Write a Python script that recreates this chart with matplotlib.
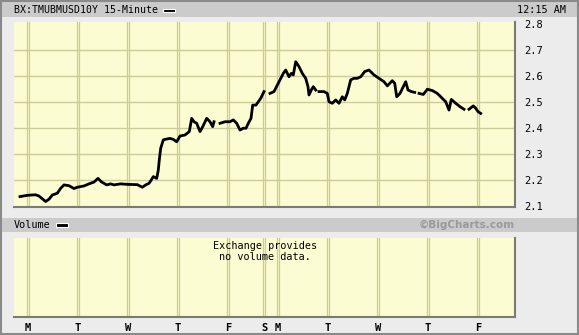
import numpy as np
import matplotlib
matplotlib.use("Agg")
import matplotlib.pyplot as plt
from matplotlib.patches import Rectangle

# x in trading days from the first Monday tick, NaN marks a gap in trading
day_pos = [-0.16, -0.014, 0.154, 0.22, 0.354, 0.42, 0.486, 0.586, 0.654, 0.72,
           0.82, 0.92, 0.986, 1.12, 1.22, 1.32, 1.40, 1.466, 1.574, 1.654,
           1.72, 1.854, 1.986, 2.186, 2.286, 2.354, 2.42, 2.466, 2.506, 2.574,
           2.606, 2.626, 2.654, 2.706, 2.74, 2.84, 2.906, 2.974, 3.04, 3.14,
           3.226, 3.274, 3.32, 3.374, 3.44, 3.494, 3.574, 3.64, 3.694, 3.72,
           3.78,
           3.84, 3.94, 4.04, 4.106, 4.174, 4.24, 4.306, 4.36, 4.406, 4.46,
           4.494, 4.56, 4.606, 4.654, 4.72,
           4.78,
           4.84, 4.92, 4.986, 5.054, 5.106, 5.154, 5.22, 5.266, 5.306, 5.354,
           5.42, 5.486, 5.554, 5.60, 5.62, 5.666, 5.706, 5.754,
           5.79,
           5.82, 5.92, 5.986, 6.02, 6.086, 6.154, 6.22, 6.286, 6.334, 6.386,
           6.454, 6.52, 6.586, 6.654, 6.734, 6.82, 6.92, 7.02, 7.12, 7.186,
           7.286, 7.334, 7.374, 7.44, 7.506, 7.554, 7.60, 7.666, 7.734,
           7.78,
           7.82, 7.906, 7.986, 8.086, 8.186, 8.286, 8.354, 8.42, 8.466, 8.554,
           8.64, 8.72,
           8.77,
           8.82, 8.906, 8.954, 9.00, 9.054]
yields = [2.136, 2.141, 2.143, 2.138, 2.117, 2.126, 2.142, 2.149, 2.168, 2.181,
          2.178, 2.167, 2.172, 2.177, 2.185, 2.192, 2.206, 2.193, 2.181, 2.185,
          2.181, 2.185, 2.183, 2.182, 2.172, 2.181, 2.187, 2.200, 2.213, 2.206,
          2.238, 2.277, 2.322, 2.354, 2.356, 2.360, 2.356, 2.347, 2.369, 2.373,
          2.386, 2.437, 2.424, 2.418, 2.386, 2.405, 2.437, 2.424, 2.405, 2.424,
          np.nan,
          2.418, 2.424, 2.424, 2.431, 2.418, 2.392, 2.399, 2.399, 2.418, 2.437,
          2.488, 2.488, 2.501, 2.514, 2.540,
          np.nan,
          2.533, 2.540, 2.565, 2.591, 2.610, 2.623, 2.597, 2.610, 2.604, 2.655,
          2.636, 2.610, 2.591, 2.559, 2.527, 2.546, 2.559, 2.546,
          np.nan,
          2.540, 2.540, 2.533, 2.501, 2.495, 2.508, 2.495, 2.520, 2.508, 2.533,
          2.585, 2.591, 2.591, 2.597, 2.617, 2.623, 2.604, 2.591, 2.578, 2.562,
          2.582, 2.572, 2.520, 2.533, 2.559, 2.578, 2.546, 2.540, 2.537,
          np.nan,
          2.533, 2.529, 2.549, 2.544, 2.533, 2.514, 2.501, 2.469, 2.510, 2.495,
          2.482, 2.472,
          np.nan,
          2.472, 2.485, 2.476, 2.463, 2.456]

day_ticks = [0, 1, 2, 3, 4, 4.72, 5, 6, 7, 8, 9]
day_labels = ["M", "T", "W", "T", "F", "S", "M", "T", "W", "T", "F"]
y_ticks = [2.1, 2.2, 2.3, 2.4, 2.5, 2.6, 2.7, 2.8]

W, H = 579, 335
bg = "#ececec"
plot_bg = "#fcfcd2"
grid_c = "#cccc99"
mono = "DejaVu Sans Mono"

fig = plt.figure(figsize=(W / 100, H / 100), dpi=100, facecolor=bg)


def fx(px):
    return px / W


def fy(py):
    return 1 - py / H


# header bars
fig.patches.append(Rectangle((0, fy(17)), 1, fy(2) - fy(17), transform=fig.transFigure,
                             facecolor="#cbcbcb", edgecolor="none", zorder=0))
fig.patches.append(Rectangle((0, fy(232)), 1, fy(218) - fy(232), transform=fig.transFigure,
                             facecolor="#cbcbcb", edgecolor="none", zorder=0))
fig.patches.append(Rectangle((0.001, 0.002), 0.997, 0.996, transform=fig.transFigure,
                             facecolor="none", edgecolor="#8a8a8a", linewidth=1.5, zorder=5))

fig.text(fx(14), fy(10), "BX:TMUBMUSD10Y 15-Minute", fontsize=7.1, family=mono,
         va="center", ha="left")
fig.patches.append(Rectangle((fx(163), fy(11.5)), fx(12), fy(8.5) - fy(11.5), transform=fig.transFigure,
                             facecolor="black", edgecolor="white", linewidth=0.8))
fig.text(fx(566), fy(10), "12:15 AM", fontsize=7.3, family=mono, va="center", ha="right")

fig.text(fx(14), fy(225), "Volume", fontsize=7.3, family=mono, va="center", ha="left")
fig.patches.append(Rectangle((fx(56), fy(226.5)), fx(12), fy(223.5) - fy(226.5), transform=fig.transFigure,
                             facecolor="black", edgecolor="white", linewidth=0.8))
fig.text(fx(515), fy(225), "\u00a9BigCharts.com", fontsize=7.5, fontweight="bold",
         color="#9a9a9a", va="center", ha="right")

# price panel
ax = fig.add_axes([fx(14), fy(207), fx(501), fy(22) - fy(207)])
ax.set_facecolor(plot_bg)
ax.set_xlim(-0.28, 9.74)
ax.set_ylim(2.096, 2.8077)
for yv in y_ticks[1:-1]:
    ax.axhline(yv, color=grid_c, linewidth=1.0, zorder=1)
for d in day_ticks:
    for off in (-0.02, 0.02):
        ax.axvline(d + off, color=grid_c, linewidth=0.9, zorder=1)
ax.plot(day_pos, yields, color="black", linewidth=2.0, zorder=3)
ax.yaxis.tick_right()
ax.set_yticks(y_ticks)
ax.set_yticklabels([f"{v:.1f}" for v in y_ticks], family=mono, fontsize=7.5)
ax.tick_params(axis="y", length=0, pad=6.5)
ax.set_xticks([])
for s in ("top", "left"):
    ax.spines[s].set_visible(False)
for s in ("bottom", "right"):
    ax.spines[s].set_color("#7a7a7a")
    ax.spines[s].set_linewidth(1.5)

# volume panel
ax2 = fig.add_axes([fx(14), fy(317), fx(501), fy(238) - fy(317)])
ax2.set_facecolor(plot_bg)
ax2.set_xlim(-0.28, 9.74)
ax2.set_ylim(0, 1)
for d in day_ticks:
    for off in (-0.02, 0.02):
        ax2.axvline(d + off, color=grid_c, linewidth=0.9, zorder=1)
ax2.text(4.74, 0.83, "Exchange provides\nno volume data.", family=mono, fontsize=7.3,
         ha="center", va="center", linespacing=1.2)
ax2.set_yticks([])
ax2.set_xticks(day_ticks)
ax2.set_xticklabels(day_labels, family=mono, fontsize=7.5, fontweight="bold")
ax2.tick_params(axis="x", length=0, pad=4)
for s in ("top", "left"):
    ax2.spines[s].set_visible(False)
for s in ("bottom", "right"):
    ax2.spines[s].set_color("#7a7a7a")
    ax2.spines[s].set_linewidth(1.5)

fig.savefig("out.png", dpi=100, facecolor=bg)
